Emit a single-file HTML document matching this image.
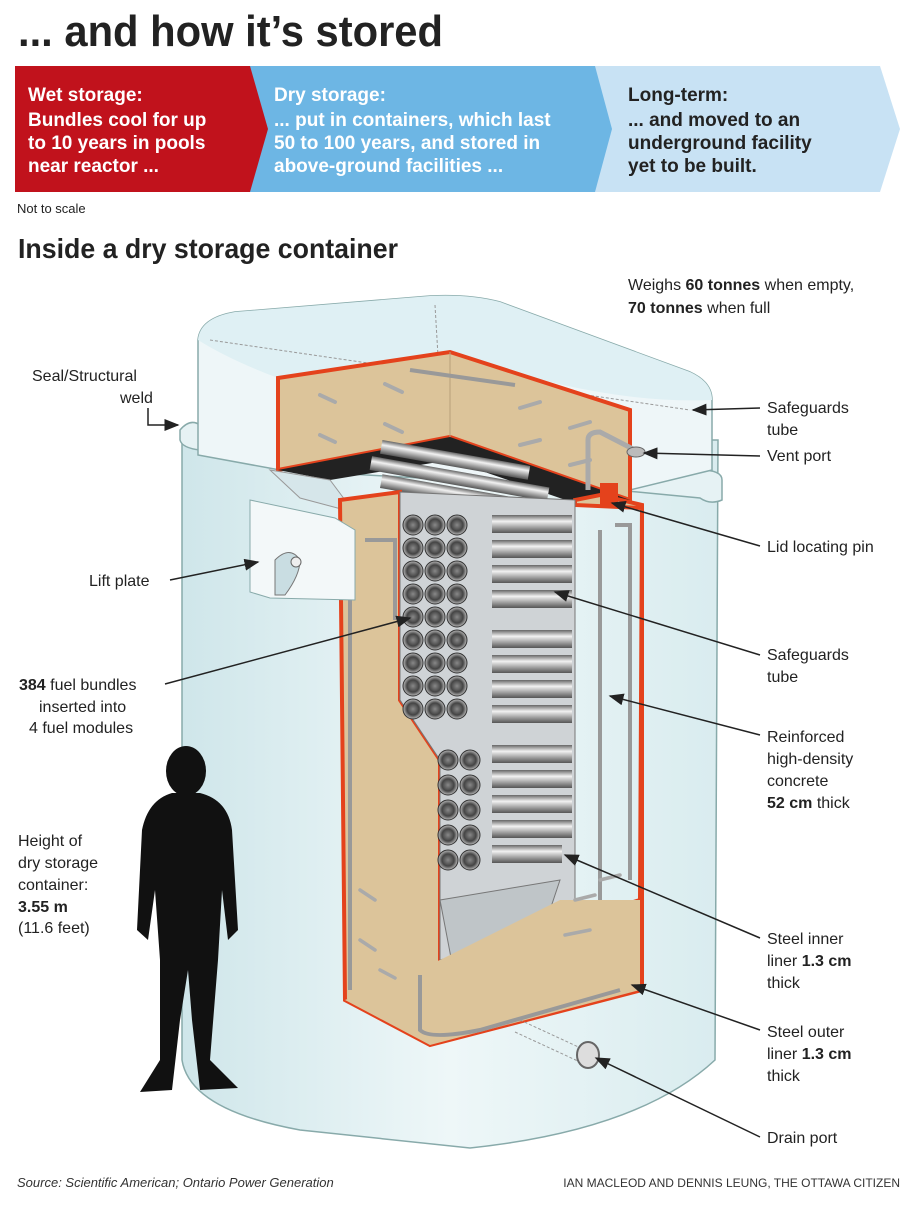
<!DOCTYPE html>
<html><head><meta charset="utf-8">
<style>
body{margin:0;background:#fff;}
svg{display:block;font-family:"Liberation Sans",sans-serif;}
</style></head><body>
<svg width="920" height="1212" viewBox="0 0 920 1212" xmlns="http://www.w3.org/2000/svg">
<defs>
<linearGradient id="cyl" x1="0" y1="0" x2="0" y2="1">
<stop offset="0" stop-color="#666"/><stop offset="0.35" stop-color="#f2f2f2"/><stop offset="1" stop-color="#555"/></linearGradient>
<linearGradient id="bodyg" x1="0" y1="0" x2="1" y2="0">
<stop offset="0" stop-color="#cfe6ea"/><stop offset="0.5" stop-color="#eef7f8"/><stop offset="1" stop-color="#d9ecef"/></linearGradient>
<radialGradient id="bund"><stop offset="0" stop-color="#888"/><stop offset="0.6" stop-color="#444"/><stop offset="1" stop-color="#bbb"/></radialGradient>
<marker id="ar" markerWidth="10" markerHeight="8" refX="9" refY="4" orient="auto"><path d="M0,0 L10,4 L0,8 z" fill="#222"/></marker>
<g id="row">
<circle cx="413" cy="0" r="10" fill="url(#bund)" stroke="#333"/>
<circle cx="435" cy="0" r="10" fill="url(#bund)" stroke="#333"/>
<circle cx="457" cy="0" r="10" fill="url(#bund)" stroke="#333"/>
</g>
</defs>

<!-- Title -->
<text x="18" y="46" font-size="44" font-weight="bold" fill="#222" textLength="425" lengthAdjust="spacingAndGlyphs">... and how it’s stored</text>

<!-- Banner -->
<polygon points="590,66 880,66 900,129 880,192 590,192" fill="#c8e2f4"/>
<polygon points="250,66 595,66 612,129 595,192 250,192" fill="#6db6e4"/>
<polygon points="15,66 250,66 268,129 250,192 15,192" fill="#c1121c"/>
<g font-weight="bold" font-size="19">
<text x="28" y="101" fill="#fff">Wet storage:</text>
<text x="28" y="126" fill="#fff">Bundles cool for up</text>
<text x="28" y="149" fill="#fff">to 10 years in pools</text>
<text x="28" y="172" fill="#fff">near reactor ...</text>
<text x="274" y="101" fill="#fff">Dry storage:</text>
<text x="274" y="126" fill="#fff">... put in containers, which last</text>
<text x="274" y="149" fill="#fff">50 to 100 years, and stored in</text>
<text x="274" y="172" fill="#fff">above-ground facilities ...</text>
<text x="628" y="101" fill="#222">Long-term:</text>
<text x="628" y="126" fill="#222">... and moved to an</text>
<text x="628" y="149" fill="#222">underground facility</text>
<text x="628" y="172" fill="#222">yet to be built.</text>
</g>
<text x="17" y="213" font-size="13" fill="#222">Not to scale</text>
<text x="18" y="258" font-size="28" font-weight="bold" fill="#222" textLength="380" lengthAdjust="spacingAndGlyphs">Inside a dry storage container</text>

<!-- Container body -->
<path d="M182,440 L182,1060 Q190,1110 300,1130 L470,1148 Q640,1130 715,1060 L718,440 Z" fill="url(#bodyg)" stroke="#8aa" stroke-width="1.5"/>
<path d="M180,430 Q190,418 200,425 L700,470 Q722,470 722,480 L722,500 Q710,505 700,498 L200,450 Q182,448 180,440 Z" fill="#e6f2f4" stroke="#8aa" stroke-width="1.5"/>
<!-- Lid -->
<path d="M198,340 Q200,318 235,312 L430,296 Q470,294 500,302 L690,372 Q712,382 712,400 L712,470 L630,490 L280,470 L198,455 Z" fill="#eef6f8" stroke="#8aa" stroke-width="1.5"/>
<path d="M198,340 Q200,318 235,312 L430,296 Q470,294 500,302 L690,372 Q712,382 712,400 Q600,405 450,352 L278,378 Q230,360 198,340Z" fill="#dff0f4"/>
<line x1="210" y1="340" x2="690" y2="410" stroke="#999" stroke-dasharray="3,2"/>
<line x1="435" y1="305" x2="440" y2="390" stroke="#999" stroke-dasharray="3,2"/>

<!-- lid concrete -->
<polygon points="278,378 450,352 630,410 630,500 450,437 278,470" fill="#dcc49a" stroke="#e4421c" stroke-width="4"/>
<line x1="450" y1="352" x2="450" y2="437" stroke="#b9a07a" stroke-width="1"/>
<line x1="410" y1="370" x2="515" y2="385" stroke="#999" stroke-width="4"/>
<g stroke="#aaa" stroke-width="4" stroke-linecap="round">
<line x1="320" y1="395" x2="335" y2="402"/><line x1="385" y1="384" x2="402" y2="392"/>
<line x1="320" y1="435" x2="335" y2="442"/><line x1="385" y1="424" x2="402" y2="432"/>
<line x1="520" y1="408" x2="540" y2="402"/><line x1="570" y1="428" x2="590" y2="422"/>
<line x1="520" y1="445" x2="540" y2="440"/><line x1="570" y1="465" x2="590" y2="460"/>
</g>

<!-- Cavity top -->
<polygon points="278,470 450,437 630,500 580,505 450,460 330,480" fill="#222"/>
<g>
<rect x="380" y="452" width="150" height="14" fill="url(#cyl)" transform="rotate(10 450 460)"/>
<rect x="370" y="470" width="180" height="14" fill="url(#cyl)" transform="rotate(10 450 475)"/>
<rect x="380" y="488" width="180" height="14" fill="url(#cyl)" transform="rotate(10 460 495)"/>
</g>
<polygon points="270,470 330,480 345,500 345,510 300,498" fill="#d6e6ea" stroke="#999"/>

<!-- Concrete wall cutaway -->
<path d="M340,500 L400,492 L400,700 L440,760 L440,960 L640,900 L642,505 L600,495 L575,500 L575,505 L642,508 L642,990 L430,1045 L345,1000 Z" fill="#dcc49a" stroke="#e4421c" stroke-width="4"/>
<polygon points="400,492 575,500 575,900 520,940 440,960 440,760 400,700" fill="#cfd3d6" stroke="#777"/>
<polygon points="440,900 560,880 520,1000 460,1005" fill="#bfc5c8" stroke="#777"/>
<polygon points="440,960 560,900 640,900 640,990 430,1045 345,1000 440,960" fill="#dcc49a"/>
<g>
<use href="#row" y="525"/><use href="#row" y="548"/><use href="#row" y="571"/><use href="#row" y="594"/><use href="#row" y="617"/>
<use href="#row" y="640"/><use href="#row" y="663"/><use href="#row" y="686"/><use href="#row" y="709"/>
</g>
<g>
<circle cx="448" cy="760" r="10" fill="url(#bund)" stroke="#333"/><circle cx="470" cy="760" r="10" fill="url(#bund)" stroke="#333"/>
<circle cx="448" cy="785" r="10" fill="url(#bund)" stroke="#333"/><circle cx="470" cy="785" r="10" fill="url(#bund)" stroke="#333"/>
<circle cx="448" cy="810" r="10" fill="url(#bund)" stroke="#333"/><circle cx="470" cy="810" r="10" fill="url(#bund)" stroke="#333"/>
<circle cx="448" cy="835" r="10" fill="url(#bund)" stroke="#333"/><circle cx="470" cy="835" r="10" fill="url(#bund)" stroke="#333"/>
<circle cx="448" cy="860" r="10" fill="url(#bund)" stroke="#333"/><circle cx="470" cy="860" r="10" fill="url(#bund)" stroke="#333"/>
</g>
<g>
<rect x="492" y="515" width="80" height="18" fill="url(#cyl)"/><rect x="492" y="540" width="80" height="18" fill="url(#cyl)"/>
<rect x="492" y="565" width="80" height="18" fill="url(#cyl)"/><rect x="492" y="590" width="80" height="18" fill="url(#cyl)"/>
<rect x="492" y="630" width="80" height="18" fill="url(#cyl)"/><rect x="492" y="655" width="80" height="18" fill="url(#cyl)"/>
<rect x="492" y="680" width="80" height="18" fill="url(#cyl)"/><rect x="492" y="705" width="80" height="18" fill="url(#cyl)"/>
<rect x="492" y="745" width="80" height="18" fill="url(#cyl)"/><rect x="492" y="770" width="80" height="18" fill="url(#cyl)"/>
<rect x="492" y="795" width="80" height="18" fill="url(#cyl)"/><rect x="492" y="820" width="80" height="18" fill="url(#cyl)"/>
<rect x="492" y="845" width="70" height="18" fill="url(#cyl)"/>
</g>
<g stroke="#999" stroke-width="4" fill="none">
<path d="M350,545 L350,990"/><path d="M365,540 L395,540 L395,620"/>
<path d="M600,530 L600,900"/><path d="M615,525 L630,525 L630,880"/>
<path d="M420,975 L420,1030 Q430,1040 480,1030 L620,990"/>
</g>
<g stroke="#aaa" stroke-width="3.5" stroke-linecap="round">
<line x1="360" y1="890" x2="375" y2="900"/><line x1="360" y1="940" x2="375" y2="950"/><line x1="380" y1="970" x2="395" y2="978"/>
<line x1="575" y1="900" x2="595" y2="895"/><line x1="565" y1="935" x2="590" y2="930"/><line x1="600" y1="880" x2="620" y2="875"/>
</g>
<path d="M588,490 L588,440 Q588,432 600,432 L635,450" stroke="#aaa" stroke-width="5" fill="none"/>
<ellipse cx="636" cy="452" rx="9" ry="5" fill="#bbb" stroke="#666"/>
<rect x="600" y="483" width="18" height="22" fill="#e4421c"/>
<polygon points="250,500 335,518 355,530 355,600 270,598 250,592" fill="#f3f8f9" stroke="#8aa"/>
<path d="M275,560 Q290,545 300,560 Q300,575 285,595 L275,595 Z" fill="#c9dde2" stroke="#777"/>
<circle cx="296" cy="562" r="5" fill="#eee" stroke="#666"/>
<line x1="520" y1="1020" x2="585" y2="1050" stroke="#999" stroke-dasharray="3,2"/>
<line x1="515" y1="1032" x2="580" y2="1062" stroke="#999" stroke-dasharray="3,2"/>
<ellipse cx="588" cy="1055" rx="11" ry="13" fill="#ddd" stroke="#666" stroke-width="2"/>

<g fill="#111">
<ellipse cx="186" cy="771" rx="20" ry="25"/>
<path d="M172,793 L200,793 Q228,800 232,830 L238,930 L228,940 L222,890 L218,960 L210,1060 L238,1088 L200,1090 L192,1020 L188,970 L180,1020 L172,1090 L140,1092 L160,1060 L160,960 L155,890 L148,940 L137,930 L142,830 Q148,800 172,793Z"/>
</g>

<g font-size="16" fill="#222">
<text x="628" y="290">Weighs <tspan font-weight="bold">60 tonnes</tspan> when empty,</text>
<text x="628" y="313"><tspan font-weight="bold">70 tonnes</tspan> when full</text>
<text x="32" y="381">Seal/Structural</text>
<text x="120" y="403">weld</text>
<text x="767" y="413">Safeguards</text><text x="767" y="435">tube</text>
<text x="767" y="461">Vent port</text>
<text x="767" y="552">Lid locating pin</text>
<text x="89" y="586">Lift plate</text>
<text x="767" y="660">Safeguards</text><text x="767" y="682">tube</text>
<text x="19" y="690"><tspan font-weight="bold">384</tspan> fuel bundles</text>
<text x="39" y="712">inserted into</text>
<text x="29" y="733">4 fuel modules</text>
<text x="767" y="742">Reinforced</text><text x="767" y="764">high-density</text>
<text x="767" y="786">concrete</text><text x="767" y="808"><tspan font-weight="bold">52 cm</tspan> thick</text>
<text x="18" y="846">Height of</text><text x="18" y="868">dry storage</text>
<text x="18" y="890">container:</text><text x="18" y="912" font-weight="bold">3.55 m</text>
<text x="18" y="933">(11.6 feet)</text>
<text x="767" y="944">Steel inner</text><text x="767" y="966">liner <tspan font-weight="bold">1.3 cm</tspan></text><text x="767" y="988">thick</text>
<text x="767" y="1037">Steel outer</text><text x="767" y="1059">liner <tspan font-weight="bold">1.3 cm</tspan></text><text x="767" y="1081">thick</text>
<text x="767" y="1143">Drain port</text>
</g>
<text x="17" y="1187" font-size="13" font-style="italic" fill="#333">Source: Scientific American; Ontario Power Generation</text>
<text x="900" y="1187" font-size="12" fill="#333" text-anchor="end">IAN MACLEOD AND DENNIS LEUNG, THE OTTAWA CITIZEN</text>

<g stroke="#222" stroke-width="1.5" fill="none" marker-end="url(#ar)">
<path d="M148,408 L148,425 L178,425"/>
<path d="M760,408 L693,410"/>
<path d="M760,456 L644,453"/>
<path d="M760,546 L612,503"/>
<path d="M170,580 L258,562"/>
<path d="M760,655 L555,592"/>
<path d="M165,684 L410,618"/>
<path d="M760,735 L610,696"/>
<path d="M760,938 L565,855"/>
<path d="M760,1030 L632,985"/>
<path d="M760,1137 L596,1058"/>
</g>
</svg>
</body></html>
